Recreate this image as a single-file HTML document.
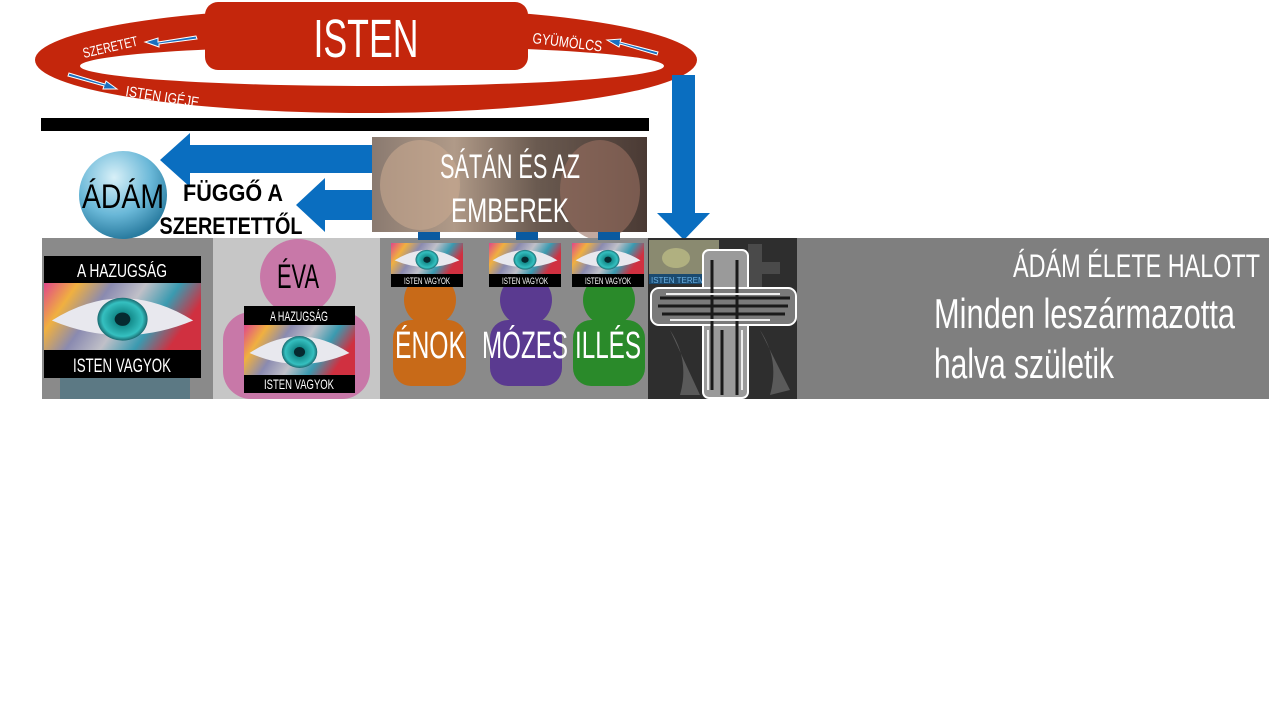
<!DOCTYPE html>
<html><head><meta charset="utf-8"><style>
html,body{margin:0;padding:0;background:#fff;width:1280px;height:720px;overflow:hidden}
svg{display:block}
text{font-family:"Liberation Sans Narrow","Liberation Sans",sans-serif}
</style></head><body>
<svg width="1280" height="720" viewBox="0 0 1280 720" xmlns="http://www.w3.org/2000/svg">
<defs>
<linearGradient id="rainbow" x1="0" y1="0" x2="1" y2="0.3">
<stop offset="0" stop-color="#e0468a"/><stop offset="0.2" stop-color="#f0b040"/><stop offset="0.4" stop-color="#8a8ab0"/><stop offset="0.6" stop-color="#c0c0c8"/><stop offset="0.8" stop-color="#3a9ab0"/><stop offset="1" stop-color="#d03040"/>
</linearGradient>
<radialGradient id="iris"><stop offset="0" stop-color="#0a3a40"/><stop offset="0.3" stop-color="#138a8a"/><stop offset="0.8" stop-color="#35c0c0"/><stop offset="1" stop-color="#1a6a70"/></radialGradient>
<radialGradient id="ball" cx="0.4" cy="0.3" r="0.7"><stop offset="0" stop-color="#d8f0f8"/><stop offset="0.6" stop-color="#6ab8d8"/><stop offset="1" stop-color="#2a7ca0"/></radialGradient>
<linearGradient id="photo" x1="0" y1="0" x2="1" y2="0"><stop offset="0" stop-color="#8a7a70"/><stop offset="0.3" stop-color="#b09a88"/><stop offset="0.6" stop-color="#6a5a50"/><stop offset="1" stop-color="#4a3a34"/></linearGradient>
<symbol id="eye" viewBox="0 0 100 50" preserveAspectRatio="none">
<rect width="100" height="50" fill="url(#rainbow)"/>
<path d="M5 28 Q50 -5 95 28 Q50 50 5 28Z" fill="#e8e8ee"/>
<circle cx="50" cy="27" r="16" fill="url(#iris)"/>
<circle cx="50" cy="27" r="5" fill="#062a30"/>
</symbol>
</defs>
<!-- ring -->
<path fill-rule="evenodd" fill="#c4260c" d="M35 60 A331 53 0 1 0 697 60 A331 53 0 1 0 35 60Z M80 66 A292 20 0 1 0 664 66 A292 20 0 1 0 80 66Z"/>
<rect x="205" y="2" width="323" height="68" rx="13" fill="#c4260c"/>
<text x="366" y="57" font-size="54" fill="#fff" text-anchor="middle" textLength="105" lengthAdjust="spacingAndGlyphs">ISTEN</text>
<text x="84" y="58" font-size="14" fill="#fff" transform="rotate(-13 84 58)" textLength="56" lengthAdjust="spacingAndGlyphs">SZERETET</text>
<text x="532" y="43" font-size="15" fill="#fff" transform="rotate(7 532 43)" textLength="70" lengthAdjust="spacingAndGlyphs">GYÜMÖLCS</text>
<text x="125" y="96" font-size="15" fill="#fff" transform="rotate(9 125 96)" textLength="74" lengthAdjust="spacingAndGlyphs">ISTEN IGÉJE</text>
<path d="M196 36 L158 42 L158 38 L145 42 L159 47 L159 44 L197 39Z" fill="#1a70c0" stroke="#fff" stroke-width="1"/>
<path d="M658 52 L620 42 L621 39 L607 40 L619 47 L620 44 L657 55Z" fill="#1a70c0" stroke="#fff" stroke-width="1"/>
<path d="M68 76 L104 86 L103 89 L117 89 L106 81 L105 84 L69 73Z" fill="#1a70c0" stroke="#fff" stroke-width="1"/>
<!-- black bar -->
<rect x="41" y="118" width="608" height="13" fill="#000"/>
<!-- vertical arrow -->
<path d="M672 75 L695 75 L695 213 L710 213 L684 240 L657 213 L672 213Z" fill="#0a6ec0"/>
<!-- left arrows -->
<path d="M372 145 L190 145 L190 133 L160 160 L190 187 L190 173 L372 173Z" fill="#0a6ec0"/>
<path d="M372 190 L325 190 L325 178 L296 205 L325 232 L325 220 L372 220Z" fill="#0a6ec0"/>
<!-- satan box -->
<rect x="372" y="137" width="275" height="95" fill="url(#photo)"/>
<ellipse cx="420" cy="185" rx="40" ry="45" fill="#c8a890" opacity="0.6"/>
<ellipse cx="600" cy="190" rx="40" ry="50" fill="#9a7060" opacity="0.6"/>
<text x="510" y="178" font-size="34" fill="#fff" text-anchor="middle" textLength="140" lengthAdjust="spacingAndGlyphs">SÁTÁN ÉS AZ</text>
<text x="510" y="222" font-size="34" fill="#fff" text-anchor="middle" textLength="118" lengthAdjust="spacingAndGlyphs">EMBEREK</text>
<!-- band -->
<rect x="42" y="238" width="1227" height="161" fill="#7f7f7f"/>
<rect x="42" y="238" width="171" height="161" fill="#8a8a8a"/>
<rect x="213" y="238" width="167" height="161" fill="#c6c6c6"/>
<rect x="380" y="238" width="268" height="161" fill="#8a8a8a"/>
<rect x="648" y="238" width="149" height="161" fill="#2e2e2e"/>
<!-- adam -->
<path d="M60 399 L60 300 Q60 262 125 262 Q190 262 190 300 L190 399Z" fill="#3d6e80" opacity="0.6"/>
<circle cx="123" cy="195" r="44" fill="url(#ball)"/>
<text x="123" y="208" font-size="34" fill="#000" text-anchor="middle" textLength="82" lengthAdjust="spacingAndGlyphs">ÁDÁM</text>
<text x="233" y="201" font-size="24" font-weight="bold" fill="#000" text-anchor="middle" textLength="100" lengthAdjust="spacingAndGlyphs">FÜGGŐ A</text>
<text x="231" y="234" font-size="24" font-weight="bold" fill="#000" text-anchor="middle" textLength="143" lengthAdjust="spacingAndGlyphs">SZERETETTŐL</text>
<rect x="44" y="256" width="157" height="27" fill="#000"/>
<use href="#eye" x="44" y="283" width="157" height="67"/>
<rect x="44" y="350" width="157" height="28" fill="#000"/>
<text x="122" y="277" font-size="18" fill="#fff" text-anchor="middle" textLength="90" lengthAdjust="spacingAndGlyphs">A HAZUGSÁG</text>
<text x="122" y="372" font-size="19" fill="#fff" text-anchor="middle" textLength="98" lengthAdjust="spacingAndGlyphs">ISTEN VAGYOK</text>
<!-- eva -->
<circle cx="298" cy="277" r="38" fill="#c878a8"/>
<rect x="223" y="312" width="147" height="87" rx="28" fill="#c878a8"/>
<text x="298" y="288" font-size="34" fill="#000" text-anchor="middle" textLength="42" lengthAdjust="spacingAndGlyphs">ÉVA</text>
<rect x="244" y="306" width="111" height="19" fill="#000"/>
<use href="#eye" x="244" y="325" width="111" height="50"/>
<rect x="244" y="375" width="111" height="18" fill="#000"/>
<text x="299" y="321" font-size="14" fill="#fff" text-anchor="middle" textLength="58" lengthAdjust="spacingAndGlyphs">A HAZUGSÁG</text>
<text x="299" y="389" font-size="14" fill="#fff" text-anchor="middle" textLength="70" lengthAdjust="spacingAndGlyphs">ISTEN VAGYOK</text>
<!-- figures -->
<g>
<rect x="418" y="232" width="22" height="8" fill="#0a5aa0"/><rect x="516" y="232" width="22" height="8" fill="#0a5aa0"/><rect x="598" y="232" width="22" height="8" fill="#0a5aa0"/>
<circle cx="430" cy="300" r="26" fill="#c86a18"/><rect x="393" y="320" width="73" height="66" rx="18" fill="#c86a18"/>
<circle cx="526" cy="300" r="26" fill="#5a3a90"/><rect x="490" y="320" width="72" height="66" rx="18" fill="#5a3a90"/>
<circle cx="609" cy="300" r="26" fill="#2a8a2a"/><rect x="573" y="320" width="72" height="66" rx="18" fill="#2a8a2a"/>
</g>
<use href="#eye" x="391" y="243" width="72" height="31"/><rect x="391" y="274" width="72" height="13" fill="#000"/>
<use href="#eye" x="489" y="243" width="72" height="31"/><rect x="489" y="274" width="72" height="13" fill="#000"/>
<use href="#eye" x="572" y="243" width="72" height="31"/><rect x="572" y="274" width="72" height="13" fill="#000"/>
<text x="427" y="284" font-size="9" fill="#fff" text-anchor="middle" textLength="46" lengthAdjust="spacingAndGlyphs">ISTEN VAGYOK</text>
<text x="525" y="284" font-size="9" fill="#fff" text-anchor="middle" textLength="46" lengthAdjust="spacingAndGlyphs">ISTEN VAGYOK</text>
<text x="608" y="284" font-size="9" fill="#fff" text-anchor="middle" textLength="46" lengthAdjust="spacingAndGlyphs">ISTEN VAGYOK</text>
<text x="430" y="358" font-size="38" fill="#fff" text-anchor="middle" textLength="70" lengthAdjust="spacingAndGlyphs">ÉNOK</text>
<text x="525" y="358" font-size="38" fill="#fff" text-anchor="middle" textLength="86" lengthAdjust="spacingAndGlyphs">MÓZES</text>
<text x="608" y="358" font-size="38" fill="#fff" text-anchor="middle" textLength="66" lengthAdjust="spacingAndGlyphs">ILLÉS</text>
<!-- cross panel -->
<rect x="649" y="240" width="70" height="34" fill="#8a8a70"/>
<ellipse cx="676" cy="258" rx="14" ry="10" fill="#b0b080"/>
<rect x="649" y="274" width="70" height="10" fill="#1a4a70"/>
<text x="651" y="283" font-size="8" fill="#6aaee0">ISTEN TEREMTM</text>
<path d="M670 330 Q690 360 680 395 L700 395 Z M760 330 Q780 360 770 395 L790 390 Z" fill="#5a5a5a"/>
<rect x="748" y="244" width="14" height="60" fill="#4a4a4a"/>
<rect x="730" y="262" width="50" height="12" fill="#4a4a4a"/>
<rect x="703" y="250" width="45" height="148" rx="6" fill="#9a9a9a" stroke="#fff" stroke-width="2"/>
<rect x="651" y="288" width="145" height="37" rx="8" fill="#7a7a7a" stroke="#fff" stroke-width="2"/>
<path d="M660 298 H790 M658 306 H788 M662 314 H785 M712 260 V390 M722 330 V395 M737 260 V395" stroke="#1a1a1a" stroke-width="3"/>
<path d="M666 294 H780 M670 320 H770 M708 330 V390 M742 330 V390" stroke="#eee" stroke-width="2"/>
<!-- right text -->
<text x="1260" y="277" font-size="32" fill="#fff" text-anchor="end" textLength="247" lengthAdjust="spacingAndGlyphs">ÁDÁM ÉLETE HALOTT</text>
<text x="934" y="328" font-size="42" fill="#fff" textLength="301" lengthAdjust="spacingAndGlyphs">Minden leszármazotta</text>
<text x="934" y="378" font-size="42" fill="#fff" textLength="180" lengthAdjust="spacingAndGlyphs">halva születik</text>
</svg>
</body></html>
